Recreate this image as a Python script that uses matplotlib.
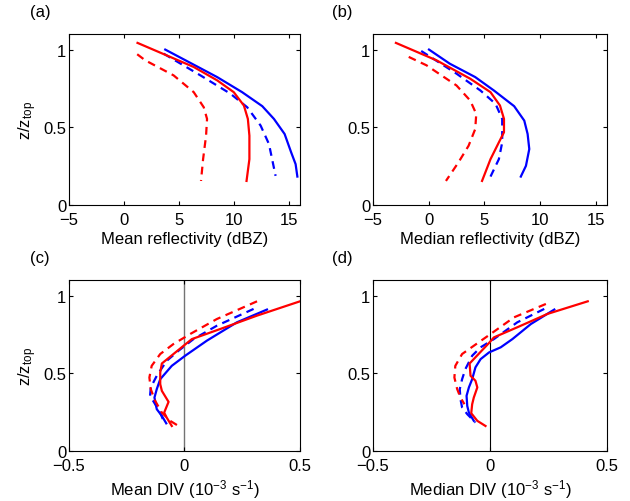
import matplotlib
matplotlib.use("Agg")
import matplotlib.pyplot as plt

plt.rcParams['font.family'] = ['Liberation Sans', 'DejaVu Sans']
plt.rcParams['mathtext.fontset'] = 'custom'
plt.rcParams['mathtext.rm'] = 'Liberation Sans'
plt.rcParams['mathtext.it'] = 'Liberation Sans'

# (a) mean reflectivity profiles
a_blue_x = [3.75, 8.47, 10.74, 12.57, 13.63, 14.6, 15.2, 15.6, 15.76]
a_blue_y = [1.0, 0.823, 0.726, 0.636, 0.554, 0.457, 0.338, 0.263, 0.183]
a_blued_x = [3.6, 6.95, 9.68, 11.2, 12.42, 13.18, 13.78]
a_blued_y = [0.974, 0.834, 0.716, 0.629, 0.511, 0.392, 0.1875]
a_red_x = [1.23, 6.34, 8.47, 9.98, 10.9, 11.26, 11.4, 11.4, 11.14]
a_red_y = [1.043, 0.888, 0.802, 0.726, 0.64, 0.554, 0.446, 0.295, 0.155]
a_redd_x = [1.2, 1.93, 4.51, 6.34, 7.25, 7.55, 7.46, 7.19, 7.0]
a_redd_y = [0.97, 0.931, 0.834, 0.726, 0.629, 0.554, 0.446, 0.295, 0.155]

# (b) median reflectivity profiles
b_blue_x = [0.03, 1.9, 4.18, 5.85, 7.67, 8.58, 8.88, 9.03, 8.73, 8.27]
b_blue_y = [1.0, 0.909, 0.823, 0.737, 0.636, 0.543, 0.457, 0.36, 0.252, 0.183]
b_blued_x = [-0.67, 2.5, 4.64, 6.0, 6.6, 6.6, 6.3, 5.55]
b_blued_y = [0.991, 0.845, 0.737, 0.651, 0.554, 0.403, 0.295, 0.183]
b_red_x = [-2.94, 0.7, 3.73, 5.55, 6.4, 6.76, 6.76, 6.3, 5.55, 4.79]
b_red_y = [1.043, 0.931, 0.8125, 0.726, 0.64, 0.554, 0.468, 0.403, 0.295, 0.155]
b_redd_x = [-1.79, -0.2, 2.5, 3.73, 4.27, 4.18, 3.58, 2.67, 1.55]
b_redd_y = [0.953, 0.899, 0.769, 0.672, 0.586, 0.489, 0.381, 0.274, 0.155]

# (c) mean divergence profiles
c_blue_x = [0.357, 0.227, 0.097, 0.003, -0.055, -0.105, -0.12, -0.13, -0.12, -0.098, -0.079]
c_blue_y = [0.91, 0.828, 0.71, 0.613, 0.548, 0.462, 0.398, 0.344, 0.269, 0.226, 0.178]
c_blued_x = [0.299, 0.14, 0.039, -0.026, -0.077, -0.12, -0.146, -0.149, -0.127, -0.105, -0.088]
c_blued_y = [0.914, 0.806, 0.72, 0.645, 0.58, 0.484, 0.409, 0.355, 0.301, 0.247, 0.183]
c_red_x = [0.5, 0.314, 0.155, 0.032, -0.004, -0.098, -0.105, -0.105, -0.098, -0.069, -0.088, -0.077, -0.055]
c_red_y = [0.963, 0.871, 0.785, 0.72, 0.677, 0.563, 0.505, 0.43, 0.387, 0.316, 0.247, 0.215, 0.161]
c_redd_x = [0.314, 0.14, 0.025, -0.048, -0.105, -0.142, -0.152, -0.146, -0.127, -0.098, -0.062, -0.026]
c_redd_y = [0.963, 0.849, 0.753, 0.688, 0.624, 0.548, 0.473, 0.398, 0.323, 0.247, 0.194, 0.161]

# (d) median divergence profiles
d_blue_x = [0.275, 0.175, 0.096, 0.046, -0.004, -0.04, -0.062, -0.076, -0.09, -0.1, -0.097, -0.09, -0.069]
d_blue_y = [0.91, 0.817, 0.72, 0.667, 0.634, 0.591, 0.538, 0.462, 0.409, 0.355, 0.29, 0.247, 0.194]
d_blued_x = [0.232, 0.117, 0.017, -0.04, -0.076, -0.105, -0.119, -0.129, -0.126, -0.119, -0.097, -0.062]
d_blued_y = [0.914, 0.828, 0.72, 0.667, 0.613, 0.527, 0.462, 0.398, 0.333, 0.28, 0.237, 0.183]
d_red_x = [0.418, 0.246, 0.117, 0.017, -0.004, -0.087, -0.083, -0.062, -0.054, -0.069, -0.076, -0.08, -0.054, -0.019]
d_red_y = [0.963, 0.882, 0.796, 0.731, 0.695, 0.563, 0.484, 0.452, 0.409, 0.344, 0.301, 0.243, 0.194, 0.161]
d_redd_x = [0.239, 0.103, 0.003, -0.069, -0.119, -0.148, -0.152, -0.14, -0.126, -0.109]
d_redd_y = [0.946, 0.86, 0.753, 0.677, 0.624, 0.548, 0.473, 0.398, 0.344, 0.301]

refl_ticks = [-5, 0, 5, 10, 15]
div_ticks = [-0.5, 0, 0.5]
y_ticks = [0, 0.5, 1]

fig = plt.figure(figsize=(6.3, 5.02), dpi=100)
ax_a = fig.add_axes([0.1095, 0.5896, 0.3667, 0.3406])
ax_b = fig.add_axes([0.592, 0.5896, 0.3714, 0.3406])
ax_c = fig.add_axes([0.1095, 0.0996, 0.3667, 0.3406])
ax_d = fig.add_axes([0.592, 0.0996, 0.3714, 0.3406])

lw = 1.6
panels = [
    (ax_a, a_blue_x, a_blue_y, a_blued_x, a_blued_y, a_red_x, a_red_y, a_redd_x, a_redd_y),
    (ax_b, b_blue_x, b_blue_y, b_blued_x, b_blued_y, b_red_x, b_red_y, b_redd_x, b_redd_y),
    (ax_c, c_blue_x, c_blue_y, c_blued_x, c_blued_y, c_red_x, c_red_y, c_redd_x, c_redd_y),
    (ax_d, d_blue_x, d_blue_y, d_blued_x, d_blued_y, d_red_x, d_red_y, d_redd_x, d_redd_y),
]
for ax, bx, by, bdx, bdy, rx, ry, rdx, rdy in panels:
    ax.plot(bx, by, color='blue', lw=lw)
    ax.plot(bdx, bdy, color='blue', lw=lw, ls=(0, (3.5, 2.5)))
    ax.plot(rx, ry, color='red', lw=lw)
    ax.plot(rdx, rdy, color='red', lw=lw, ls=(0, (3.5, 2.5)))

ax_c.axvline(0, color='0.45', lw=1, zorder=0)
ax_d.axvline(0, color='black', lw=0.8, zorder=0)

for ax in [ax_a, ax_b]:
    ax.set_xlim(-5, 16)
    ax.set_xticks(refl_ticks)
    ax.set_xticklabels(['\u22125', '0', '5', '10', '15'])
for ax in [ax_c, ax_d]:
    ax.set_xlim(-0.5, 0.5)
    ax.set_xticks(div_ticks)
    ax.set_xticklabels(['\u22120.5', '0', '0.5'])

for ax in [ax_a, ax_b, ax_c, ax_d]:
    ax.set_ylim(0, 1.1)
    ax.set_yticks(y_ticks)
    ax.set_yticklabels(['0', '0.5', '1'])
    ax.tick_params(direction='in', top=True, right=True, labelsize=12, length=3)
    ax.tick_params(axis='x', pad=5)
    ax.tick_params(axis='y', pad=2)
    for s in ax.spines.values():
        s.set_linewidth(0.8)

ax_a.set_xlabel('Mean reflectivity (dBZ)', fontsize=12, labelpad=3)
ax_b.set_xlabel('Median reflectivity (dBZ)', fontsize=12, labelpad=3)
ax_c.set_xlabel('Mean DIV (10$^{-3}$ s$^{-1}$)', fontsize=12, labelpad=3)
ax_d.set_xlabel('Median DIV (10$^{-3}$ s$^{-1}$)', fontsize=12, labelpad=3)
ax_a.set_ylabel('z/z$_{\\rm top}$', fontsize=12, labelpad=3)
ax_c.set_ylabel('z/z$_{\\rm top}$', fontsize=12, labelpad=3)

fig.text(30 / 630, 1 - 13 / 502, '(a)', fontsize=12, va='center', ha='left')
fig.text(332 / 630, 1 - 13 / 502, '(b)', fontsize=12, va='center', ha='left')
fig.text(30 / 630, 1 - 258 / 502, '(c)', fontsize=12, va='center', ha='left')
fig.text(332 / 630, 1 - 258 / 502, '(d)', fontsize=12, va='center', ha='left')

fig.savefig('out.png', dpi=100)
